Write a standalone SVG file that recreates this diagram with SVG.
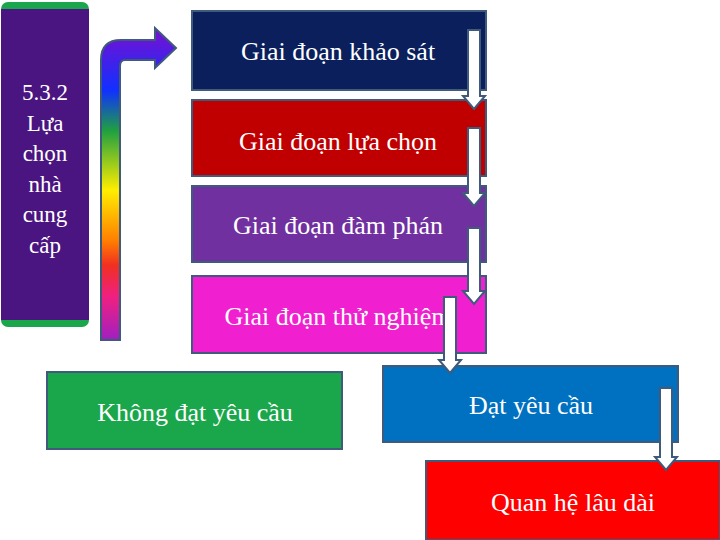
<svg xmlns="http://www.w3.org/2000/svg" width="720" height="540" viewBox="0 0 720 540">
<defs>
<linearGradient id="rb" x1="0" y1="0" x2="0" y2="1" gradientUnits="objectBoundingBox">
<stop offset="0" stop-color="#7a10d0"/><stop offset="0.2" stop-color="#1030ff"/><stop offset="0.33" stop-color="#20a040"/><stop offset="0.52" stop-color="#ffee00"/><stop offset="0.68" stop-color="#ff8000"/><stop offset="0.76" stop-color="#f03020"/><stop offset="0.86" stop-color="#f02080"/><stop offset="1" stop-color="#a020c0"/>
</linearGradient>
</defs>
<style>
.b{stroke:#3f5a7a;stroke-width:2}
.t{font-family:"Liberation Serif",serif;font-size:26px;fill:#fff;text-anchor:middle}
.a{fill:#fff;stroke:#3f5a7a;stroke-width:2}
</style>
<rect width="720" height="540" fill="#fff"/>
<g id="side">
<rect x="1" y="2" width="88" height="325" rx="7" fill="#1aa64a"/>
<rect x="1" y="9" width="88" height="311" fill="#4a1580"/>
<text x="45" y="0" font-family="Liberation Serif,serif" font-size="23" fill="#fff" text-anchor="middle"><tspan x="45" y="100">5.3.2</tspan><tspan x="45" y="131">Lựa</tspan><tspan x="45" y="161">chọn</tspan><tspan x="45" y="192">nhà</tspan><tspan x="45" y="222">cung</tspan><tspan x="45" y="253">cấp</tspan></text>
</g>
<g id="bentArrow">
<path d="M101 340 V60 Q101 40 121 40 H155 V28 L176 48 L155 68 V60 H125 Q120 60 120 66 V340 Z" fill="url(#rb)" stroke="#3f5a7a" stroke-width="2"/>
</g>
<g id="n1"><rect class="b" x="192" y="11" width="294" height="79" fill="#0a1f5c"/><text class="t" x="338" y="60">Giai đoạn khảo sát</text></g>
<g id="n2"><rect class="b" x="192" y="100" width="294" height="76" fill="#c00000"/><text class="t" x="338" y="150">Giai đoạn lựa chọn</text></g>
<g id="n3"><rect class="b" x="192" y="186" width="294" height="76" fill="#7030a0"/><text class="t" x="338" y="234">Giai đoạn đàm phán</text></g>
<g id="n4"><rect class="b" x="192" y="276" width="294" height="77" fill="#f020d0"/><text class="t" x="338" y="325">Giai đoạn thử nghiệm</text></g>
<g id="n5"><rect class="b" x="47" y="372" width="295" height="77" fill="#1aa64a"/><text class="t" x="195" y="421">Không đạt yêu cầu</text></g>
<g id="n6"><rect class="b" x="383" y="366" width="295" height="76" fill="#0070c0"/><text class="t" x="531" y="414">Đạt yêu cầu</text></g>
<g id="n7"><rect class="b" x="426" y="461" width="294" height="79" fill="#ff0000"/><text class="t" x="573" y="511">Quan hệ lâu dài</text></g>
<g id="connectors">
<path class="a" d="M468 30 H480 V96 H485 L474 109 L463 96 H468 Z"/>
<path class="a" d="M468 128 H480 V193 H485 L474 206 L463 193 H468 Z"/>
<path class="a" d="M468 228 H480 V291 H485 L474 304 L463 291 H468 Z"/>
<path class="a" d="M444 297 H456 V360 H461 L450 373 L439 360 H444 Z"/>
<path class="a" d="M660 388 H672 V457 H677 L666 470 L655 457 H660 Z"/>
</g>
</svg>
